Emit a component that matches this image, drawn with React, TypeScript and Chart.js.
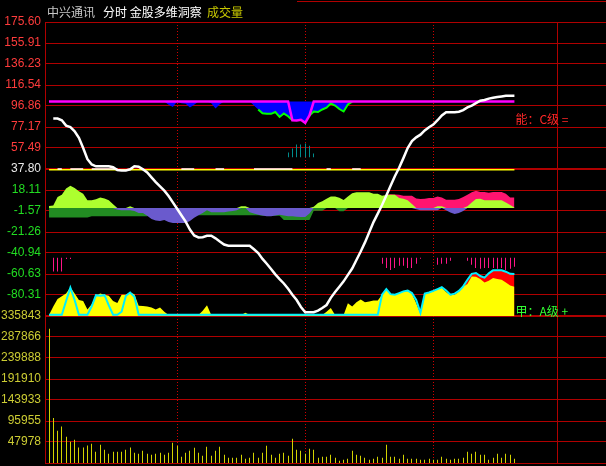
import { useEffect, useRef } from 'react';
import { Chart, registerables } from 'chart.js';

Chart.register(...registerables);

// ---- header and side texts ----
const stockName = '中兴通讯';
const panelTitle = '分时 金股多维洞察';
const volumeTitle = '成交量';
const upperSideLabel = '能：C级 =';
const lowerSideLabel = '甲：A级 +';

// ---- axis ticks ----
const priceTicks = [175.6, 155.91, 136.23, 116.54, 96.86, 77.17, 57.49, 37.8, 18.11, -1.57, -21.26, -40.94, -60.63, -80.31];
const priceTickLabels = ['175.60', '155.91', '136.23', '116.54', '96.86', '77.17', '57.49', '37.80', '18.11', '-1.57', '-21.26', '-40.94', '-60.63', '-80.31'];
const priceMin = -100;
const priceMax = 175.6;
const volumeTicks = [335843, 287866, 239888, 191910, 143933, 95955, 47978];
const volumeTickLabels = ['335843', '287866', '239888', '191910', '143933', '95955', '47978'];
const volumeMax = 335843;

// session grid: one slot per two minutes, hour marks every 30 slots
const hourMarks = [30, 60, 90];
const sessionEdge = 119;

// ---- series, one value per slot ----
const trendLine = [
  null, 85.1, 85.1, 83.5, 78.5, 77, 73.2, 67, 57.5, 47,
  42, 40.3, 40.3, 40.3, 40.3, 39.5, 36.8, 36.5, 36.5, 37.5,
  40.3, 40, 37.5, 34.5, 30, 25.5, 21.5, 17.5, 12.5, 6.5,
  0.5, -5.5, -11.5, -19, -24.5, -26.3, -26.1, -24.8, -24.8, -27.2,
  -30.2, -33, -34.2, -34.2, -34.2, -34.2, -34.2, -34.2, -37.5, -41,
  -46.5, -51, -56, -61, -65.5, -69.5, -74.5, -80, -85, -91.5,
  -96.5, -96.5, -96.5, -95, -92.5, -89.7, -83, -77.5, -72.5, -67.5,
  -61.5, -55.5, -47.5, -39.5, -31, -21.5, -12, -4, 4, 13,
  22, 31, 39, 48, 57.5, 64, 67.5, 70, 74, 77,
  79.5, 83.5, 88, 91, 91, 91, 91.5, 93, 95.5, 97.3,
  99.5, 101.8, 102.5, 103.8, 104.6, 105.2, 105.8, 106.4, 106.4, 106.4,
];

const magentaLevel = 101;
const magentaLine = [
  101, 101, 101, 101, 101, 101, 101, 101, 101, 101,
  101, 101, 101, 101, 101, 101, 101, 101, 101, 101,
  101, 101, 101, 101, 101, 101, 101, 101, 101, 101,
  101, 101, 101, 101, 101, 101, 101, 101, 101, 101,
  101, 101, 101, 101, 101, 101, 101, 101, 101, 101,
  101, 101, 101, 101, 101, 101, 101, 83.5, 83.2, 84,
  81.1, 88, 101, 101, 101, 101, 101, 101, 101, 101,
  101, 101, 101, 101, 101, 101, 101, 101, 101, 101,
  101, 101, 101, 101, 101, 101, 101, 101, 101, 101,
  101, 101, 101, 101, 101, 101, 101, 101, 101, 101,
  101, 101, 101, 101, 101, 101, 101, 101, 101, 101,
];

const blueEdge = [
  101, 101, 101, 101, 101, 101, 101, 101, 101, 101,
  101, 101, 101, 101, 101, 101, 101, 101, 101, 101,
  101, 101, 101, 101, 101, 101, 101, 101, 98, 96,
  101, 99.5, 99, 95.5, 98, 101, 101, 101, 99.5, 94.5,
  98.5, 101, 101, 101, 101, 101, 101, 101, 97.3, 93.6,
  90, 89.5, 89.5, 91.2, 86.6, 89.8, 87.3, 83.5, 83.2, 84,
  81.1, 88, 91.7, 91.2, 93.6, 95.2, 99.2, 97.3, 94, 91.7,
  98.3, 101, 101, 101, 101, 101, 101, 101, 101, 101,
  101, 101, 101, 101, 101, 101, 101, 101, 101, 101,
  101, 101, 101, 101, 101, 101, 101, 101, 101, 101,
  101, 101, 101, 101, 101, 101, 101, 101, 101, 101,
];
const greenOutlineRanges = [[49, 57], [61, 71]];

const tealSlots = [56, 57, 58, 59, 60, 61, 62];
const tealTops = [53.2, 56.9, 60.7, 60.7, 61.6, 59.7, 52.3];
const tealBase = 48.8;

const referenceLevel = 37.2;
const referenceMark = 37.8;
const referenceMarkRanges = [[2, 3], [5, 8], [10, 16], [31, 34], [39, 41], [48, 57], [65, 66], [71, 73]];

const bandBase = 1.2;
const darkGreenBand = [
  -7.6, -7.6, -7.6, -7.6, -7.6, -7.6, -7.6, -7.6, -7.6, -7.6,
  -6.6, -6.6, -6.6, -6.6, -6.6, -6.6, -6.6, -6.6, -6.6, -6.6,
  -6.6, -6.6, -6.6, -6.6, -5, -5, -5, -5, -5, -5,
  -5, -5, -5, -5, -5, -5.5, -5.5, -5.5, -5.5, -5.5,
  -5.5, -5.5, -5.5, -5.5, -5.5, -5.5, -5.5, -5.5, -5.5, -5.5,
  -6, -6, -6, -6, -6, -10, -10, -10, -10, -10,
  -10, -10, -1.3, -1.3, -1.3, 1.2, 1.2, 1.2, -1.9, -1.9,
  1.2, 1.2, 1.2, 1.2, 1.2, 1.2, 1.2, 1.2, 1.2, 1.2,
  1.2, 1.2, 1.2, 1.2, 1.2, 1.2, 1.2, 1.2, 1.2, 1.2,
  1.2, 1.2, 1.2, 1.2, 1.2, 1.2, 1.2, 1.2, 1.2, 1.2,
  1.2, 1.2, 1.2, 1.2, 1.2, 1.2, 1.2, 1.2, 1.2, 1.2,
];
const purpleBand = [
  1.2, 1.2, 1.2, 1.2, 1.2, 1.2, 1.2, 1.2, 1.2, 1.2,
  1.2, 1.2, 1.2, 1.2, 1.2, 1.2, -0.5, -0.9, -0.9, -0.9,
  -1.5, -3.4, -3.4, -6, -9, -10.5, -11, -10, -12, -12.8,
  -12.8, -12.8, -12.8, -11, -8, -5.5, -3.4, -0.9, -2.8, -2.8,
  -2.8, -2.8, -2, -1.5, -0.9, 1.2, 1.2, -2.8, -3.8, -5,
  -5.8, -6.6, -6.6, -5.8, -5, -5.8, -6.6, -6.6, -7, -7.2,
  -7.2, -4, 1.2, 1.2, 1.2, 1.2, 1.2, 1.2, 1.2, 1.2,
  1.2, 1.2, 1.2, 1.2, 1.2, 1.2, 1.2, 1.2, 1.2, 1.2,
  1.2, 1.2, 1.2, 1.2, 1.2, 1.2, 0, -0.9, -0.9, -0.9,
  -0.9, -0.9, 1.2, -0.9, -3, -4.4, -3.5, -1.5, 1.2, 1.2,
  1.2, 1.2, 1.2, 1.2, 1.2, 1.2, 1.2, 1.2, 1.2, 1.2,
];
const limeBand = [
  3, 3.5, 11.5, 13.7, 19.5, 22, 20, 17, 14.6, 8.5,
  8.4, 9.5, 11.2, 10.2, 8.5, 4.8, 1.2, 1.2, 1.2, 2.8,
  1.2, 1.2, 1.2, 1.2, 1.2, 1.2, 1.2, 1.2, 1.2, 1.2,
  1.2, 1.2, 1.2, 1.2, 1.2, 1.2, 1.2, 1.2, 1.2, 1.2,
  1.2, 1.2, 1.2, 1.2, 1.2, 2.8, 2.8, 1.2, 1.2, 1.2,
  1.2, 1.2, 1.2, 1.2, 1.2, 1.2, 1.2, 1.2, 1.2, 1.2,
  1.2, 1.2, 2.5, 6, 7.5, 10, 12.1, 12.1, 10.9, 8.8,
  12, 15, 15.9, 15.9, 15.9, 15.9, 14.6, 14.6, 12.8, 13.5,
  13.7, 13.7, 10.6, 10, 8.5, 5, 1.2, 1.2, 1.2, 1.2,
  1.2, 2.8, 2.8, 1.2, 1.2, 1.2, 1.2, 1.2, 2.8, 6.5,
  9.7, 10, 8.6, 8.4, 8.4, 8.4, 8.4, 6.5, 4, 1.8,
];
const pinkBandFrom = 79;
const pinkBand = [
  14,
  14.2, 14, 13.7, 12.8, 12.8, 12.8, 10.2, 9.7, 9.9, 10.6,
  10.6, 12.1, 11, 9, 9, 9, 9.7, 11.5, 13.7, 16,
  17.5, 16.2, 16.2, 15.5, 16.2, 16.2, 16.2, 14.6, 11.2, 11.2,
];

const pinkStickTop = -45.3;
const pinkStickSlots = [1, 2, 3, 4, 5, 78, 79, 80, 81, 82, 83, 84, 85, 86, 87, 91, 92, 93, 94, 98, 99, 100, 101, 102, 103, 104, 105, 106, 107, 108, 109];
const pinkStickBottoms = [-58.4, -58.4, -58.4, -46.5, -46.5, -51.1, -54.9, -56.8, -54.9, -53, -53, -54.9, -54.9, -51.1, -46.4, -52, -51.1, -51.1, -48.3, -48.3, -52, -54.9, -55.8, -54.9, -54.9, -54.9, -55.8, -54.9, -56.8, -55.8, -53.9];

const yellowArea = [
  -99, -91, -84, -81.6, -79, -73, -79, -85, -86, -94,
  -89, -81, -79, -80, -81, -86, -87.8, -80, -80, -78,
  -79.5, -90.5, -90.7, -91, -92, -94, -92, -96, -99, -99,
  -99, -99, -99, -99, -99, -99, -95, -90, -99, -99,
  -99, -99, -99, -99, -99, -99, -97, -99, -99, -99,
  -99, -99, -99, -99, -99, -99, -99, -99, -99, -99,
  -99, -99, -99, -99, -99, -96, -92.5, -99, -99, -99,
  -88, -91, -87, -84.5, -87, -86.3, -85.4, -85.4, -80, -75.5,
  -79.5, -80, -79, -76.9, -76.5, -79, -88, -98, -79.5, -78,
  -77, -75, -73.5, -77.5, -80.5, -80, -77, -72.5, -70, -63,
  -63.2, -65.3, -68.5, -67, -64.4, -65.2, -66, -68.5, -71.5, -72.5,
];
const cyanLine = [
  -98.8, -98.8, -98.8, -98.8, -86, -73.5, -85, -98.8, -98.8, -98.8,
  -91, -80.5, -81, -80.5, -90, -98.8, -98.8, -96, -81, -78,
  -82, -98.8, -98.8, -98.8, -98.8, -98.8, -98.8, -98.8, -98.8, -98.8,
  -98.8, -98.8, -98.8, -98.8, -98.8, -98.8, -98.8, -98.8, -98.8, -98.8,
  -98.8, -98.8, -98.8, -98.8, -98.8, -98.8, -98.8, -98.8, -98.8, -98.8,
  -98.8, -98.8, -98.8, -98.8, -98.8, -98.8, -98.8, -98.8, -98.8, -98.8,
  -98.8, -98.8, -98.8, -98.8, -98.8, -98.8, -98.8, -98.8, -98.8, -98.8,
  -98.8, -98.8, -98.8, -98.8, -98.8, -98.8, -98.8, -98.8, -80, -74.7,
  -79.5, -80, -78.5, -76.9, -76.2, -78.5, -85, -97, -79, -78,
  -76.5, -74.8, -73, -76, -80, -79, -76.5, -72.2, -66, -60.5,
  -59.7, -62.5, -64, -60, -57.2, -57.2, -57.2, -58.5, -60.5, -60.6,
];
const redFrom = 97;

const volumes = [
  306900, 102800, 73800, 83600, 60000, 48700, 53300, 35600, 35600, 40200,
  44200, 25900, 41900, 30500, 21300, 25900, 25900, 25900, 30500, 35600,
  23600, 21300, 28200, 21300, 19000, 21300, 23600, 19000, 23600, 46400,
  39600, 14500, 23600, 28200, 35000, 23600, 16800, 37300, 16800, 28200,
  37300, 19000, 12200, 12200, 12200, 19000, 9900, 12200, 23600, 12200,
  23600, 39600, 19000, 12200, 21300, 23600, 16800, 55600, 30500, 28200,
  21300, 32800, 30500, 12200, 14500, 14500, 19000, 12200, 5300, 7600,
  9900, 28200, 19000, 16800, 12200, 7600, 9900, 14500, 12200, 41900,
  14500, 14500, 9900, 19000, 9900, 9900, 9900, 7600, 7600, 9900,
  7600, 7600, 14500, 9900, 7600, 9900, 9900, 12200, 25900, 21300,
  25900, 19000, 19000, 7600, 12200, 21300, 12200, 21300, 19000, 9900,
];

// ---- colours ----
const gridRed = '#b00000';
const dotRed = '#d00000';
const labelRed = '#ff3c3c';
const labelGreen = '#22dd22';
const labelWhite = '#e8e8e8';
const labelYellow = '#cccc33';
const volumeYellow = '#d2d200';
const axisFont = { family: '"Liberation Sans", Arial, sans-serif', size: 12 };
const cjkFont = '12px "Noto Sans CJK SC", sans-serif';

type Val = number | null;

const toPoints = (values: Val[], from = 0) => values.map((v, k) => ({ x: from + k, y: v }));
const keepRanges = (values: Val[], ranges: number[][]) =>
  values.map((v, i) => (ranges.some(([a, b]) => i >= a && i <= b) ? v : null));

const area = (label: string, values: Val[], color: string, order: number, fill: any, from = 0) => ({
  type: 'line' as const,
  label,
  data: toPoints(values, from),
  yAxisID: 'y',
  borderWidth: 0,
  pointRadius: 0,
  backgroundColor: color,
  fill,
  order,
});

const line = (label: string, values: Val[], color: string, width: number, order: number) => ({
  type: 'line' as const,
  label,
  data: toPoints(values),
  yAxisID: 'y',
  borderColor: color,
  borderWidth: width,
  pointRadius: 0,
  fill: false,
  order,
});

const stick = (label: string, data: any[], axis: string, color: string, order: number) => ({
  type: 'bar' as const,
  label,
  data,
  yAxisID: axis,
  backgroundColor: color,
  barThickness: 1,
  inflateAmount: 0,
  grouped: false,
  order,
});

// the axes sit inside a fixed frame, so no extra room for edge labels
const fixAxisBox = (s: any) => {
  s.width = 45;
  s.paddingTop = 0;
  s.paddingBottom = 0;
};

// one-pixel sticks look sharp only when centred on a pixel column
const snapSticks = {
  id: 'snapSticks',
  afterDatasetsUpdate(chart: any) {
    chart.data.datasets.forEach((ds: any, i: number) => {
      if (ds.type !== 'bar') return;
      chart.getDatasetMeta(i).data.forEach((el: any) => {
        el.x = Math.floor(el.x) + 0.5;
      });
    });
  },
};

const framePlugin = {
  id: 'frame',
  beforeDatasetsDraw(chart: any) {
    const { ctx, chartArea: a, scales } = chart;
    const x = scales.x;
    ctx.save();
    ctx.lineWidth = 1;
    ctx.strokeStyle = dotRed;
    ctx.setLineDash([1, 2]);
    for (const m of hourMarks) {
      const px = Math.round(x.getPixelForValue(m)) + 0.5;
      ctx.beginPath();
      ctx.moveTo(px, a.top);
      ctx.lineTo(px, a.bottom);
      ctx.stroke();
    }
    ctx.setLineDash([]);
    ctx.strokeStyle = gridRed;
    const ex = Math.round(x.getPixelForValue(sessionEdge)) + 0.5;
    ctx.beginPath();
    ctx.moveTo(ex, a.top);
    ctx.lineTo(ex, a.bottom);
    ctx.stroke();
    // bottom frame and the header rule
    ctx.beginPath();
    ctx.moveTo(a.left, Math.round(a.bottom) + 0.5);
    ctx.lineTo(a.right, Math.round(a.bottom) + 0.5);
    ctx.moveTo(297, 1.5);
    ctx.lineTo(a.right, 1.5);
    ctx.stroke();
    ctx.restore();
  },
  afterDraw(chart: any) {
    const { ctx, scales } = chart;
    const x = scales.x;
    const y = scales.y;
    ctx.save();
    ctx.font = cjkFont;
    ctx.textBaseline = 'middle';
    ctx.textAlign = 'left';
    ctx.fillStyle = '#c8c8c8';
    ctx.fillText(stockName, 47, 12.5);
    ctx.fillStyle = '#ffffff';
    ctx.fillText(panelTitle, 103, 12.5);
    ctx.fillStyle = '#c8c800';
    ctx.fillText(volumeTitle, 207, 12.5);
    const lx = x.getPixelForValue(trendLine.length - 1) + 1;
    ctx.fillStyle = '#ff2828';
    ctx.fillText(upperSideLabel, lx, y.getPixelForValue(84));
    ctx.fillStyle = '#33ff33';
    ctx.fillText(lowerSideLabel, lx, y.getPixelForValue(-96));
    ctx.restore();
  },
};

export default function App() {
  const canvasRef = useRef<HTMLCanvasElement>(null);

  useEffect(() => {
    const canvas = canvasRef.current;
    if (!canvas) return;

    const redPart = cyanLine.map((v, i) => (i >= redFrom ? v : null));
    const markLine = keepRanges(trendLine.map(() => referenceMark), referenceMarkRanges);
    const refLine = trendLine.map(() => referenceLevel);
    const outline = keepRanges(blueEdge, greenOutlineRanges);

    const datasets: any[] = [
      stick('volume', volumes.map((v, i) => ({ x: i, y: v })), 'yv', volumeYellow, 40),
      area('dark green', darkGreenBand, '#228b22', 30, { value: bandBase }),
      area('purple', purpleBand, '#6a5acd', 29, { value: bandBase }),
      area('pink', pinkBand, '#ff1470', 28, { value: bandBase }, pinkBandFrom),
      area('lime', limeBand, '#adff2f', 27, { value: bandBase }),
      area('red', redPart, '#ff0000', 26, 'start'),
      area('yellow', yellowArea, '#ffff00', 25, 'start'),
      line('cyan', cyanLine, '#00f0ff', 2, 24),
      stick('pink sticks', pinkStickSlots.map((s, k) => ({ x: s, y: [pinkStickBottoms[k], pinkStickTop] })), 'y', '#ff1488', 23),
      stick('teal sticks', tealSlots.map((s, k) => ({ x: s, y: [tealBase, tealTops[k]] })), 'y', '#008c8c', 22),
      line('reference', refLine, '#ffff00', 1.5, 21),
      line('reference mark', markLine, '#ffffff', 1.5, 20),
      area('blue', blueEdge, '#0000ff', 19, { value: magentaLevel }),
      line('green edge', outline, '#00ff00', 2, 18),
      line('magenta', magentaLine, '#ff00ff', 2.5, 17),
      line('trend', trendLine, '#ffffff', 2.5, 1),
    ];

    const chart = new Chart(canvas, {
      type: 'line',
      data: { datasets },
      plugins: [snapSticks, framePlugin],
      options: {
        animation: false,
        responsive: false,
        devicePixelRatio: 1,
        events: [],
        layout: { padding: { top: 22, bottom: 3, left: 0, right: 0 } },
        plugins: { legend: { display: false }, tooltip: { enabled: false } },
        elements: { line: { tension: 0 } },
        scales: {
          x: {
            type: 'linear',
            min: -0.94,
            max: 130.45,
            offset: false,
            display: false,
          },
          y: {
            type: 'linear',
            position: 'left',
            stack: 'panels',
            stackWeight: 2,
            weight: 1,
            min: priceMin,
            max: priceMax,
            afterBuildTicks: (s: any) => {
              s.ticks = priceTicks.map((value) => ({ value }));
            },
            afterFit: fixAxisBox,
            ticks: {
              autoSkip: false,
              padding: 4,
              font: axisFont,
              callback: (v: any) => priceTickLabels[priceTicks.indexOf(v)],
              color: (c: any) => {
                const v = c.tick ? c.tick.value : 0;
                if (v === 37.8) return labelWhite;
                return v > 37.8 ? labelRed : labelGreen;
              },
            },
            grid: {
              color: gridRed,
              drawTicks: false,
              lineWidth: (c: any) => (c.tick && c.tick.value === 37.8 ? 2 : 1),
            },
            border: { color: gridRed, width: 1 },
          },
          yv: {
            type: 'linear',
            position: 'left',
            stack: 'panels',
            stackWeight: 1,
            weight: 0,
            min: 0,
            max: volumeMax,
            afterBuildTicks: (s: any) => {
              s.ticks = volumeTicks.map((value) => ({ value }));
            },
            afterFit: fixAxisBox,
            ticks: {
              autoSkip: false,
              padding: 4,
              font: axisFont,
              color: labelYellow,
              callback: (v: any) => volumeTickLabels[volumeTicks.indexOf(v)],
            },
            grid: {
              color: gridRed,
              drawTicks: false,
              lineWidth: (c: any) => (c.tick && c.tick.value === volumeMax ? 2 : 1),
            },
            border: { color: gridRed, width: 1 },
          },
        },
      } as any,
    });

    return () => chart.destroy();
  }, []);

  return (
    <div style={{ position: 'fixed', left: 0, top: 0, width: 606, height: 466, background: '#000' }}>
      <canvas ref={canvasRef} width={606} height={466} style={{ display: 'block' }} />
    </div>
  );
}
